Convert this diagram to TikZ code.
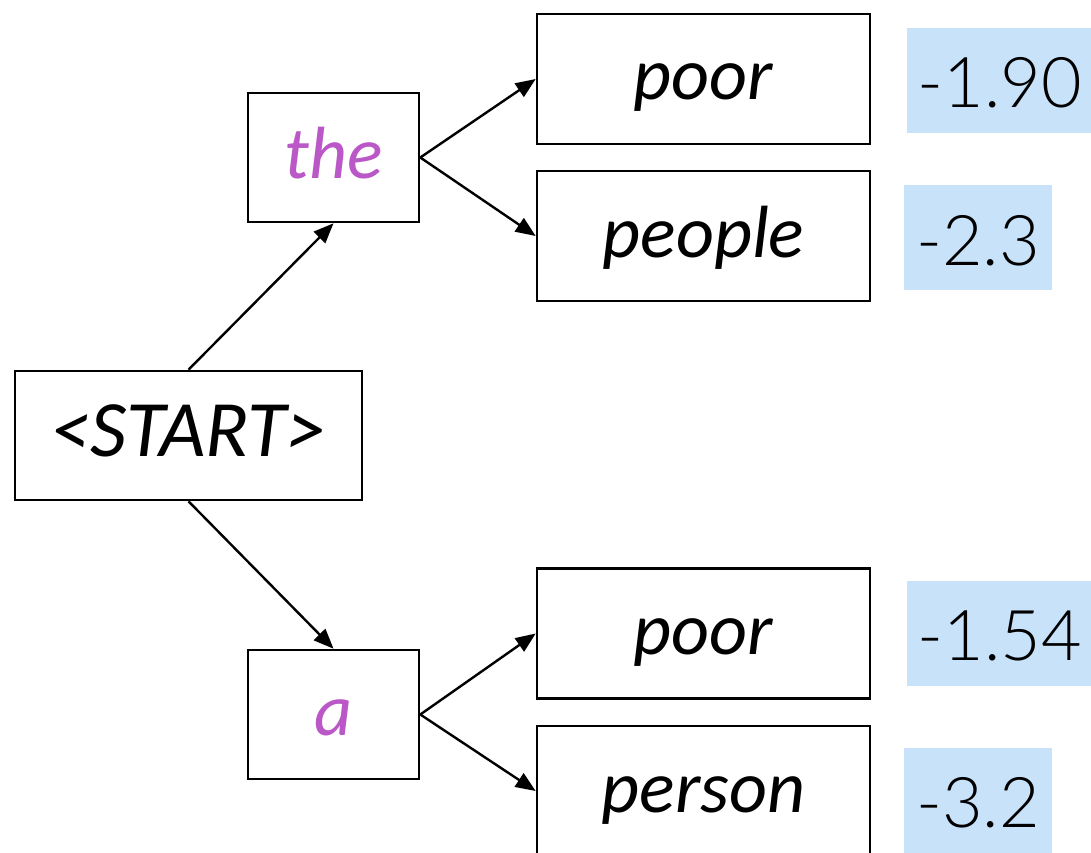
\documentclass[tikz,border=0pt]{standalone}
\usepackage{fontspec}
\setmainfont{Carlito}
\newfontfamily\scorefont{Lato}[UprightFont={* Light}]
\usetikzlibrary{arrows.meta}
\definecolor{wordpurple}{RGB}{187,88,199}
\definecolor{scoreblue}{RGB}{200,226,250}
\tikzset{
  wordbox/.style={draw=black, line width=2.6pt, rectangle, inner sep=0pt,
    text height=60pt, text depth=18pt,
    font=\fontsize{74}{80}\selectfont\itshape},
  scorebox/.style={fill=scoreblue, rectangle, inner sep=0pt,
    text height=55pt, text depth=0pt,
    font=\scorefont\fontsize{70}{80}\selectfont},
  link/.style={line width=2.4pt, -{Triangle[length=20pt,width=16pt]}}
}
\begin{document}
\begin{tikzpicture}[x=1pt,y=-1pt]
\useasboundingbox[fill=white] (0,0) rectangle (1091,853);
\node[wordbox, minimum width=347pt, minimum height=129pt, font=\fontsize{80}{86}\selectfont\itshape] (start) at (188.5,435.5) {<START>};
\node[wordbox, minimum width=171pt, minimum height=129pt, text=wordpurple] (the) at (333.5,157.5) {the};
\node[wordbox, minimum width=171pt, minimum height=129pt, text=wordpurple] (a) at (333.5,714.5) {a};
\node[wordbox, minimum width=333pt, minimum height=130pt] (poor1) at (703.5,79) {poor};
\node[wordbox, minimum width=333pt, minimum height=130pt] (people) at (703.5,236) {people};
\node[wordbox, minimum width=333pt, minimum height=130pt] (poor2) at (703.5,633.5) {poor};
\node[wordbox, minimum width=333pt, minimum height=130pt] (person) at (703.5,791) {person};
\node[scorebox, minimum width=186pt, minimum height=105pt] (s1) at (1000,80.5) {-1.90};
\node[scorebox, minimum width=148pt, minimum height=105pt] (s2) at (978,237.5) {-2.3};
\node[scorebox, minimum width=186pt, minimum height=105pt] (s3) at (1000,633) {-1.54};
\node[scorebox, minimum width=148pt, minimum height=105pt] (s4) at (978,800) {-3.2};
\draw[link] (start.north) -- (the.south);
\draw[link] (start.south) -- (a.north);
\draw[link] (the.east) -- (poor1.west);
\draw[link] (the.east) -- (people.west);
\draw[link] (a.east) -- (poor2.west);
\draw[link] (a.east) -- (person.west);
\end{tikzpicture}
\end{document}
